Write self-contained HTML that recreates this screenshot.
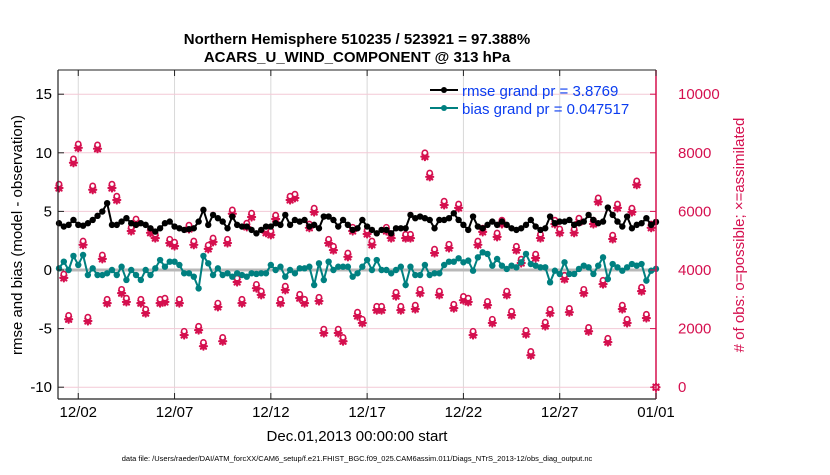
<!DOCTYPE html>
<html><head><meta charset="utf-8">
<style>
body{margin:0;background:#fff;width:830px;height:470px;overflow:hidden;font-family:"Liberation Sans",sans-serif}
svg text{font-family:"Liberation Sans",sans-serif}
</style></head>
<body>
<svg id="chart" width="830" height="470" viewBox="0 0 830 470" xmlns="http://www.w3.org/2000/svg">
<rect width="830" height="470" fill="#fff"/>
<text x="357" y="44" text-anchor="middle" font-size="15" font-weight="bold">Northern Hemisphere 510235 / 523921 = 97.388%</text>
<text x="357" y="62" text-anchor="middle" font-size="15" font-weight="bold">ACARS_U_WIND_COMPONENT @ 313 hPa</text>
<g id="grid"></g>
<g id="marks"></g>
<g id="axes"></g>
<text x="357" y="441" text-anchor="middle" font-size="15">Dec.01,2013 00:00:00 start</text>
<text transform="translate(22,235) rotate(-90)" text-anchor="middle" font-size="15">rmse and bias (model - observation)</text>
<text transform="translate(744,235) rotate(-90)" text-anchor="middle" font-size="15" fill="#d5104f"># of obs: o=possible; ×=assimilated</text>
<text x="357" y="461" text-anchor="middle" font-size="7.5">data file: /Users/raeder/DAI/ATM_forcXX/CAM6_setup/f.e21.FHIST_BGC.f09_025.CAM6assim.011/Diags_NTrS_2013-12/obs_diag_output.nc</text>
<g id="legend">
<line x1="430" y1="90" x2="458" y2="90" stroke="#000" stroke-width="2"/><circle cx="444" cy="90" r="3" fill="#000"/>
<text x="462" y="96" font-size="15" fill="#0a3cf0">rmse grand pr = 3.8769</text>
<line x1="430" y1="108" x2="458" y2="108" stroke="#008080" stroke-width="2"/><circle cx="444" cy="108" r="3" fill="#008080"/>
<text x="462" y="114" font-size="15" fill="#0a3cf0">bias grand pr = 0.047517</text>
</g>
</svg>
<script>
const rmse=[3.99,3.71,3.85,4.27,3.85,3.78,3.99,4.27,4.62,4.99,5.70,3.85,3.85,4.13,4.42,3.99,3.85,3.99,3.85,3.56,3.28,3.56,3.99,4.13,3.71,3.56,3.42,3.48,3.56,4.13,5.13,3.85,4.70,4.42,4.13,3.56,4.56,3.85,3.71,3.71,3.42,3.13,3.42,3.71,
3.71,3.99,3.85,4.70,3.85,4.27,4.13,4.27,3.71,3.85,3.56,4.56,4.56,4.27,3.71,4.27,3.85,3.42,3.56,4.27,3.71,3.42,3.13,3.42,3.42,3.13,3.56,3.56,3.56,4.70,4.42,4.56,4.42,4.27,3.56,4.27,4.27,4.42,4.84,4.27,
3.85,3.42,4.56,3.71,3.56,3.85,4.13,3.85,4.13,3.85,3.56,3.42,3.56,3.85,4.27,3.71,3.42,3.56,4.56,3.99,4.13,4.13,4.27,3.85,3.99,4.13,4.70,4.27,3.99,4.13,5.33,4.70,4.13,3.71,4.56,3.56,3.85,3.99,4.42,3.85,4.10];
const bias=[0.14,0.71,0,1.2,0.43,1.28,-0.43,0.14,-0.43,-0.43,-0.28,0,-0.43,0.28,-0.85,0,-0.43,-0.85,0,-0.43,0.14,0.85,0.28,0.71,0.71,0.43,-0.28,-0.28,-0.57,-1.57,1.2,0.57,-0.43,0.14,-0.43,-0.28,-0.57,-0.28,-0.43,-0.57,-0.28,-0.34,-0.28,-0.28,
0.43,0,0.28,-0.57,0,-0.28,0.14,0.14,0.28,-1.28,0.57,-0.85,0.71,0,0.28,0.28,0.28,-0.57,-0.28,0.28,0.85,0,0.85,0,0,-0.28,0,0.28,-1.28,0.28,-0.43,-0.43,0.43,-0.43,-0.28,-0.28,0.43,0.71,0.71,1.0,
0.66,0.80,-0.06,1.08,1.51,1.37,0.37,0.94,0.37,0.09,0.37,0.23,0.66,1.37,0.51,0.37,0.23,0.23,-1.05,-0.06,-0.34,0.66,-0.34,-0.34,0.09,0.37,0.23,-0.34,0.37,1.08,-0.77,0.51,0.23,-0.06,0.23,0.51,0.37,0.51,-0.91,-0.06,0.10];
const obsAssim=[6800,3730,2320,7660,8170,4860,2260,6740,8140,4380,2870,6800,6390,3210,2910,5330,5610,2870,2530,5270,5090,2870,2910,4920,4820,2870,1780,5400,4860,1950,1400,4720,4960,2740,1570,4920,5920,3590,2870,5470,5810,3380,3150,5270,
5200,5740,2870,3320,6390,6460,3040,2870,5440,5980,2940,1850,4920,4680,1850,1570,4450,5330,2430,2190,5230,4860,2630,2630,5330,5090,3110,2630,5090,5090,2670,3210,7870,7180,4580,3150,6220,4750,2700,6120,2970,
2910,1780,4860,5300,2800,2190,5130,5570,3150,2460,4680,4240,1810,1090,4410,5090,2090,2530,5570,5270,3690,2560,5270,5640,3210,1910,5570,6330,3520,1540,5060,6120,2670,2190,5980,6910,3280,2360,5440,0];
const obsPossible=[6930,3860,2450,7790,8300,4990,2390,6870,8270,4510,3000,6930,6520,3340,3040,5460,5740,3000,2660,5400,5220,3000,3040,5050,4950,3000,1910,5530,4990,2080,1530,4850,5090,2870,1700,5050,6050,3720,3000,5600,5940,3510,3280,5400,
5330,5870,3000,3450,6520,6590,3170,3000,5570,6110,3070,1980,5050,4810,1980,1700,4580,5460,2560,2320,5360,4990,2760,2760,5460,5220,3240,2760,5220,5220,2800,3340,8000,7310,4710,3280,6350,4880,2830,6250,3100,
3040,1910,4990,5430,2930,2320,5260,5700,3280,2590,4810,4370,1940,1220,4540,5220,2220,2660,5700,5400,3820,2690,5400,5770,3340,2040,5700,6460,3650,1670,5190,6250,2800,2320,6110,7040,3410,2490,5570,0];
const leftTicks=[-10,-5,0,5,10,15];
const rightTicks=[0,2000,4000,6000,8000,10000];
const dateTicks=[1,6,11,16,21,26,31];
const dateLabels=["12/02","12/07","12/12","12/17","12/22","12/27","01/01"];
const stepDays=0.25;

const NS="http://www.w3.org/2000/svg";
const L=58,R=656,T=70,B=399;
const xDay=d=>L+1+d*(R-L-1)/31;
const yL=v=>270-v*11.72;
const yR=c=>yL((c-4000)/400);
function mk(tag,attrs,parent){const e=document.createElementNS(NS,tag);for(const k in attrs)e.setAttribute(k,attrs[k]);parent.appendChild(e);return e;}
const grid=document.getElementById('grid'),marks=document.getElementById('marks'),axes=document.getElementById('axes');
mk('rect',{x:L,y:T,width:R-L,height:B-T,fill:'#fff'},grid);
dateTicks.forEach(d=>{const l=mk('line',{x1:xDay(d),x2:xDay(d),y1:T,y2:B,stroke:'#d8d8d8','stroke-width':1},grid);

});
rightTicks.forEach(c=>{const l=mk('line',{x1:L,x2:R,y1:yR(c),y2:yR(c),stroke:'#f3c9d6','stroke-width':1},grid);

});
const zl=mk('line',{x1:L,x2:R,y1:yL(0),y2:yL(0),stroke:'#b8b8b8','stroke-width':3},grid);


obsAssim.forEach((c,i)=>{const x=xDay(i*stepDays),y=yR(c);
const g=mk('g',{stroke:'#d5104f','stroke-width':2.2,'stroke-linecap':'round'},marks);


mk('line',{x1:x-3.5,x2:x+3.5,y1:y,y2:y},g);mk('line',{x1:x,x2:x,y1:y-3.5,y2:y+3.5},g);
mk('line',{x1:x-2.6,x2:x+2.6,y1:y-2.6,y2:y+2.6},g);mk('line',{x1:x-2.6,x2:x+2.6,y1:y+2.6,y2:y-2.6},g);});
obsPossible.forEach((c,i)=>{const x=xDay(i*stepDays),y=yR(c);
const o=mk('circle',{cx:x,cy:y,r:2.6,fill:'#fff',stroke:'#d5104f','stroke-width':1.6},marks);

});
function series(arr,color,name){
const p=mk('polyline',{points:arr.map((v,i)=>xDay(i*stepDays)+','+yL(v)).join(' '),fill:'none',stroke:color,'stroke-width':2},marks);


arr.forEach((v,i)=>{const c=mk('circle',{cx:xDay(i*stepDays),cy:yL(v),r:3.2,fill:color},marks);

});}
series(bias,'#008080','bias');
series(rmse,'#000','rmse');
mk('line',{x1:L,x2:R,y1:T,y2:T,stroke:'#222','stroke-width':1},axes);
mk('line',{x1:L,x2:R,y1:B,y2:B,stroke:'#222','stroke-width':1.2},axes);
mk('line',{x1:L,x2:L,y1:T,y2:B,stroke:'#222','stroke-width':1.2},axes);
mk('line',{x1:R,x2:R,y1:T,y2:B,stroke:'#d5104f','stroke-width':1.5},axes);
leftTicks.forEach(v=>{mk('line',{x1:L,x2:L+6,y1:yL(v),y2:yL(v),stroke:'#222'},axes);
const t=mk('text',{x:L-6,y:yL(v)+5,'text-anchor':'end','font-size':15},axes);t.textContent=v;

});
rightTicks.forEach(c=>{mk('line',{x1:R-6,x2:R,y1:yR(c),y2:yR(c),stroke:'#d5104f'},axes);
const t=mk('text',{x:R+22,y:yR(c)+5,'text-anchor':'start','font-size':15,fill:'#d5104f'},axes);t.textContent=c;

});
dateTicks.forEach((d,k)=>{mk('line',{x1:xDay(d),x2:xDay(d),y1:B,y2:B-6,stroke:'#222'},axes);mk('line',{x1:xDay(d),x2:xDay(d),y1:T,y2:T+6,stroke:'#222'},axes);
const t=mk('text',{x:xDay(d),y:417,'text-anchor':'middle','font-size':15},axes);t.textContent=dateLabels[k];

});
</script>
</body></html>
